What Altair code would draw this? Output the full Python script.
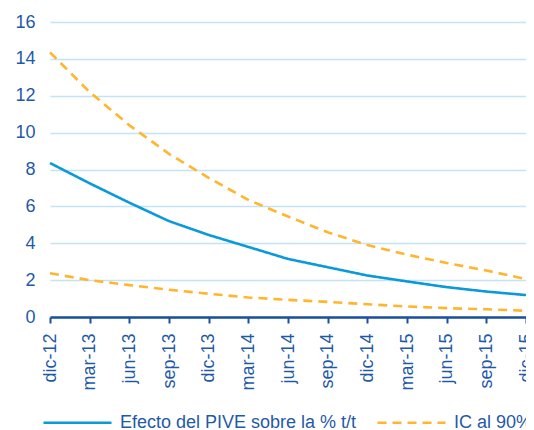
import altair as alt
import pandas as pd

periods = ["dic-12", "mar-13", "jun-13", "sep-13", "dic-13", "mar-14", "jun-14",
           "sep-14", "dic-14", "mar-15", "jun-15", "sep-15", "dic-15"]
efecto = [8.35, 7.25, 6.2, 5.2, 4.45, 3.8, 3.15, 2.7, 2.25, 1.93, 1.62, 1.38, 1.19]
ic_sup = [14.35, 12.2, 10.4, 8.85, 7.55, 6.35, 5.45, 4.6, 3.9, 3.38, 2.93, 2.52, 2.06]
ic_inf = [2.37, 2.0, 1.73, 1.48, 1.26, 1.06, 0.93, 0.82, 0.69, 0.57, 0.48, 0.42, 0.34]

lab_main = "Efecto del PIVE sobre la % t/t"
lab_ic = "IC al 90%"

rows = []
for i, p in enumerate(periods):
    rows.append({"i": i, "periodo": p, "valor": efecto[i], "serie": lab_main, "linea": "central"})
    rows.append({"i": i, "periodo": p, "valor": ic_sup[i], "serie": lab_ic, "linea": "sup"})
    rows.append({"i": i, "periodo": p, "valor": ic_inf[i], "serie": lab_ic, "linea": "inf"})
df = pd.DataFrame(rows)

label_expr = "[" + ",".join("'%s'" % p for p in periods) + "][datum.value]"

font = "Liberation Sans"
axis_blue = "#1f5aa8"

chart = alt.Chart(df).mark_line(strokeWidth=2.6).encode(
    x=alt.X("i:Q",
            scale=alt.Scale(domain=[0, 12], nice=False, zero=False),
            axis=alt.Axis(values=list(range(len(periods))), labelExpr=label_expr,
                          labelAngle=270, labelAlign="right", labelBaseline="middle",
                          labelFontSize=18, labelColor=axis_blue, labelFont=font,
                          labelPadding=10, labelOverlap=False, labelBound=False,
                          grid=False, domainColor="#1a4f9c", domainWidth=2.5,
                          tickColor="#1a4f9c", tickWidth=2, tickSize=6,
                          title=None)),
    y=alt.Y("valor:Q",
            scale=alt.Scale(domain=[0, 16], nice=False),
            axis=alt.Axis(values=list(range(0, 17, 2)), labelFontSize=18,
                          labelColor=axis_blue, labelFont=font, labelPadding=15,
                          domain=False, ticks=False, grid=True,
                          gridColor="#c3e4f5", gridWidth=1.3, title=None)),
    color=alt.Color("serie:N",
                    scale=alt.Scale(domain=[lab_main, lab_ic], range=["#0a9ad9", "#ffb62e"]),
                    legend=alt.Legend(orient="none", legendX=-8, legendY=365,
                                      direction="horizontal", title=None,
                                      symbolType="stroke", symbolSize=4624,
                                      symbolStrokeWidth=2.6, labelFontSize=18,
                                      labelFont=font, labelColor=axis_blue,
                                      labelOffset=7, columnPadding=15,
                                      padding=0, labelLimit=400)),
    strokeDash=alt.StrokeDash("serie:N",
                              scale=alt.Scale(domain=[lab_main, lab_ic], range=[[1, 0], [9, 6]]),
                              legend=None),
    detail="linea:N",
).properties(
    width=476, height=295,
    autosize=alt.AutoSizeParams(type="none"),
    padding={"left": 42, "top": 14, "right": 0, "bottom": 111},
).configure_view(stroke=None)

chart.save("out.html", embed_options={"renderer": "svg", "actions": False})
